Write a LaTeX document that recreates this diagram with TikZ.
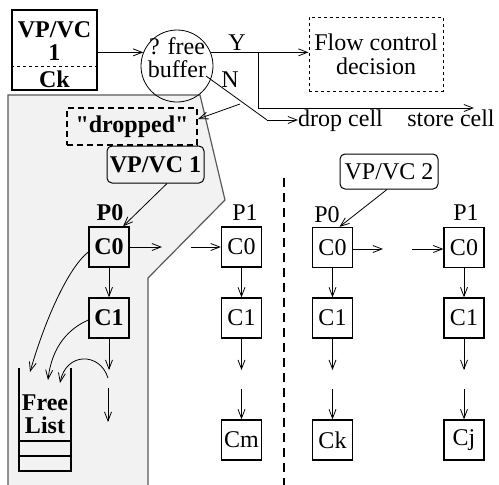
\documentclass[tikz,border=0pt]{standalone}
\usepackage{fontspec}
\setmainfont{Liberation Serif}[Ligatures=TeXOff]
\usetikzlibrary{arrows.meta}
\begin{document}
\begin{tikzpicture}[x=1pt,y=-1pt,
  every node/.style={font=\fontsize{24}{22}\selectfont},
  arr/.style={-{Straight Barb[length=9pt,width=7pt]},line width=0.8pt},
  cell/.style={draw,line width=1.3pt,minimum width=40,minimum height=40,inner sep=0pt},
  lbl/.style={inner sep=0pt},
  rbox/.style={draw,rounded corners=5pt,line width=1pt,inner sep=0pt},
  divider/.style={dashed,line width=2.2pt,dash pattern=on 9pt off 6pt}]
\useasboundingbox (0,0) rectangle (499,485);
% gray region
\fill[gray!10] (8,95) -- (200,95) -- (225,200) -- (148,278) -- (148,487) -- (8,487) -- cycle;
\draw[gray!70!black,line width=1.2pt] (8,487) -- (8,95) -- (200,95) -- (225,200) -- (148,278) -- (148,487);
% top-left box
\node[draw,line width=1.6pt,minimum width=85,minimum height=80,inner sep=0pt] (vpvc) at (54.5,50) {};
\node[lbl,align=center,font=\fontsize{24}{23}\selectfont\bfseries] (vpvctxt) at (54.5,41) {VP/VC\\1};
\node[lbl,font=\fontsize{24}{22}\selectfont\bfseries] (ck) at (54.5,79) {Ck};
\draw[dashed,line width=0.9pt] (vpvc.west |- 0,66) -- (vpvc.east |- 0,66);
% buffer circle
\node[draw,circle,minimum size=72,inner sep=0pt,line width=0.8pt] (buf) at (177,66) {};
\node[lbl,align=center,font=\fontsize{24}{23}\selectfont] (buftxt) at (177,58) {? free\\buffer};
\draw[arr] (vpvc.east |- buf.158) -- (buf.158);
% flow control
\node[draw,dashed,line width=1pt,minimum width=134,minimum height=74,inner sep=0pt,align=center,
  font=\fontsize{24}{24}\selectfont] (flow) at (376,54) {Flow control\\decision};
\draw[arr] (buf.22) -- (flow.west |- buf.22);
\node[lbl] (ylab) at (237,43) {Y};
\coordinate (br) at (258,53);
\coordinate (storeend) at (474,108);
\draw[arr] (br) -- (br |- storeend) -- (storeend);
\node[lbl] (store) at (451,118) {store cell};
% N branch
\node[lbl] (nlab) at (230,80) {N};
\coordinate (nstart) at (206,76);
\coordinate (nbend) at (267,120);
\node[lbl,anchor=west] (drop) at (298,121) {drop cell};
\draw[line width=0.8pt] (nstart) -- (nbend);
\draw[arr] (nbend) -- (drop.west |- nbend);
% dropped box
\node[draw,dashed,line width=2pt,dash pattern=on 6pt off 4pt,minimum width=130,minimum height=37,inner sep=0pt,
  font=\fontsize{24}{24}\selectfont\bfseries] (dropped) at (132,126.5) {"dropped"};
\coordinate (dsplit) at (240,104);
\draw[arr] (dsplit) -- (dropped.north east |- 0,119);
% VP/VC 1 rounded
\node[rbox,minimum width=97,minimum height=37,font=\fontsize{24}{24}\selectfont\bfseries] (vpone) at (155.5,164.5) {VP/VC 1};
% P0 left column
\node[lbl,font=\fontsize{24}{24}\selectfont\bfseries] (p0a) at (110,213) {P0};
\node[cell,font=\fontsize{24}{24}\selectfont\bfseries] (c00) at (109,247) {C0};
\node[cell,font=\fontsize{24}{24}\selectfont\bfseries] (c10) at (109,318) {C1};
\draw[arr] ([xshift=11.5]vpone.south) -- ([xshift=14]c00.north);
\draw[arr] (c00) -- (c10);
\coordinate (g1a) at (162,247);
\coordinate (g1b) at (191,247);
\draw[arr] (c00.east) -- (g1a);
\coordinate (e0a) at (109,370);
\draw[arr] (c10) -- (e0a);
\coordinate (e0b) at (108,378);
\coordinate (e0c) at (108,388);
\coordinate (e0d) at (108,422);
\draw[arr] (e0c) -- (e0d);
% free list
\draw[line width=1.2pt] (19,368) -- (19,471) -- (71,471) -- (71,368);
\draw[line width=1.2pt] (19,441) -- (71,441) (19,456) -- (71,456);
\node[lbl,font=\fontsize{24}{24}\selectfont\bfseries] (free) at (45,403) {Free};
\node[lbl,font=\fontsize{24}{24}\selectfont\bfseries] (list) at (45,425) {List};
\coordinate (f1) at (30,372);
\coordinate (f2) at (48,380);
\coordinate (f3) at (60,383);
\draw[arr] (c00.west |- 0,252) .. controls (68,268) and (45,320) .. (f1);
\draw[arr] (c10.west |- 0,320) .. controls (70,328) and (52,345) .. (f2);
\draw[arr] (e0b) .. controls (100,352) and (66,352) .. (f3);
% P1 middle column
\node[lbl] (p1a) at (245,213) {P1};
\node[cell] (c01) at (241.5,247) {C0};
\node[cell] (c11) at (241.5,318) {C1};
\node[cell] (cm) at (241.5,440) {Cm};
\draw[arr] (g1b) -- (c01.west);
\draw[arr] (c01) -- (c11);
\coordinate (e1a) at (241.5,370);
\coordinate (e1b) at (241.5,389);
\draw[arr] (c11) -- (e1a);
\draw[arr] (e1b) -- (cm.north);
% divider
\coordinate (dv1) at (284,178);
\coordinate (dv2) at (284,485);
\draw[divider] (dv1) -- (dv2);
% right P0
\node[rbox,minimum width=98,minimum height=35,font=\fontsize{24}{24}\selectfont] (vptwo) at (389,171.5) {VP/VC 2};
\node[lbl] (p0b) at (327,215) {P0};
\node[cell] (c02) at (332.5,247.5) {C0};
\node[cell] (c12) at (332.5,318) {C1};
\node[cell] (ckk) at (332.5,440) {Ck};
\draw[arr] ([xshift=-2]vptwo.south) -- ([xshift=7]c02.north);
\draw[arr] (c02) -- (c12);
\coordinate (e2a) at (332.5,370);
\coordinate (e2b) at (332.5,389);
\draw[arr] (c12) -- (e2a);
\draw[arr] (e2b) -- (ckk.north);
\coordinate (g2a) at (383,249);
\coordinate (g2b) at (412,249);
\draw[arr] (c02.east |- g2a) -- (g2a);
% right P1
\node[lbl] (p1b) at (466,213) {P1};
\node[cell] (c03) at (464,247.5) {C0};
\node[cell] (c13) at (464,318) {C1};
\node[cell] (cj) at (464,440) {Cj};
\draw[arr] (g2b) -- (c03.west |- g2b);
\draw[arr] (c03) -- (c13);
\coordinate (e3a) at (464,370);
\coordinate (e3b) at (464,389);
\draw[arr] (c13) -- (e3a);
\draw[arr] (e3b) -- (cj.north);
\end{tikzpicture}
\end{document}
